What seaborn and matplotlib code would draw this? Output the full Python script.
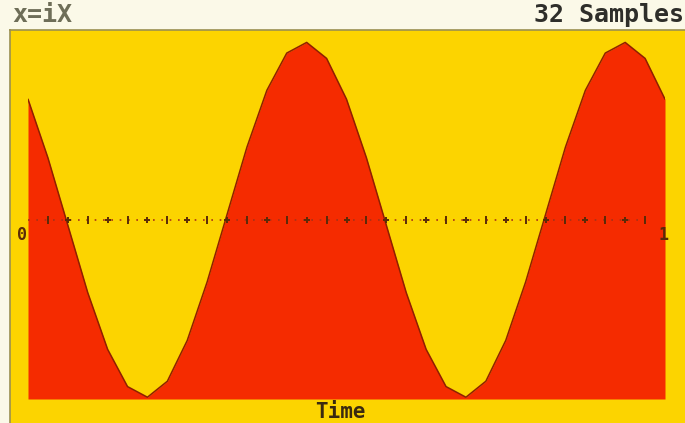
import matplotlib.pyplot as plt
import seaborn as sns
import pandas as pd

# 32 samples of the waveform, x = i * X with X = 1/32
sample_index = list(range(33))
signal = [0.68, 0.35, -0.03, -0.41, -0.73, -0.94, -1.00, -0.91, -0.68,
          -0.35, 0.03, 0.41, 0.73, 0.94, 1.00, 0.91, 0.68,
          0.35, -0.03, -0.41, -0.73, -0.94, -1.00, -0.91, -0.68,
          -0.35, 0.03, 0.41, 0.73, 0.94, 1.00, 0.91, 0.68]
end_labels = ['0', '1']
title_left = 'x=iX'
title_right = '32 Samples'
x_label = 'Time'

yellow = '#fcd400'
red = '#f52b00'
cream = '#fbf9e8'
ink = '#5a2a08'

df = pd.DataFrame({'i': sample_index, 'v': signal})

sns.set_style('white')
plt.rcParams['font.family'] = ['DejaVu Sans Mono']

W, H = 685, 423
fig = plt.figure(figsize=(W / 100, H / 100), dpi=100)
fig.patch.set_facecolor(cream)

# yellow screen panel
bg = fig.add_axes([10 / W, 0, 675 / W, 393 / H])
bg.set_facecolor(yellow)
bg.set_xticks([])
bg.set_yticks([])
for side in ['right', 'bottom']:
    bg.spines[side].set_visible(False)
for side in ['left', 'top']:
    bg.spines[side].set_color('#9a9050')
    bg.spines[side].set_linewidth(1.2)

ax = fig.add_axes([28 / W, (H - 399) / H, (665 - 28) / W, (399 - 30) / H])
ax.set_facecolor(yellow)
ax.set_xlim(0, 32)
ax.set_ylim(-1.01, 1.07)
ax.axis('off')

ax.fill_between(df['i'], df['v'], -1.01, color=red, lw=0)
sns.lineplot(data=df, x='i', y='v', ax=ax, color='#8e2000', lw=1.1)

# dotted time axis with alternating tick marks
ax.plot([0, 31], [0, 0], ls=(0, (1, 4)), color='#a83018', lw=1.2)
even = [i for i in sample_index[1:32] if i % 2 == 0]
odd = [i for i in sample_index[1:32] if i % 2 == 1]
ax.plot(odd, [0] * len(odd), ls='none', marker='|', ms=6, mew=1.4, color=ink)
ax.plot(even, [0] * len(even), ls='none', marker='+', ms=5, mew=1.4, color=ink)

ax.text(-0.3, -0.085, end_labels[0], ha='center', va='center',
        fontsize=12, fontweight='bold', color=ink)
ax.text(31.9, -0.085, end_labels[1], ha='center', va='center',
        fontsize=12, fontweight='bold', color=ink)

fig.text(12 / W, 1 - 15 / H, title_left, ha='left', va='center',
         fontsize=18, fontweight='bold', color='#6e6e58')
fig.text(684 / W, 1 - 15 / H, title_right, ha='right', va='center',
         fontsize=18, fontweight='bold', color='#2e2e2a')
fig.text(340 / W, 1 - 412 / H, x_label, ha='center', va='center',
         fontsize=15, fontweight='bold', color='#3a2a10')

fig.savefig('out.png', dpi=100, facecolor=cream)
